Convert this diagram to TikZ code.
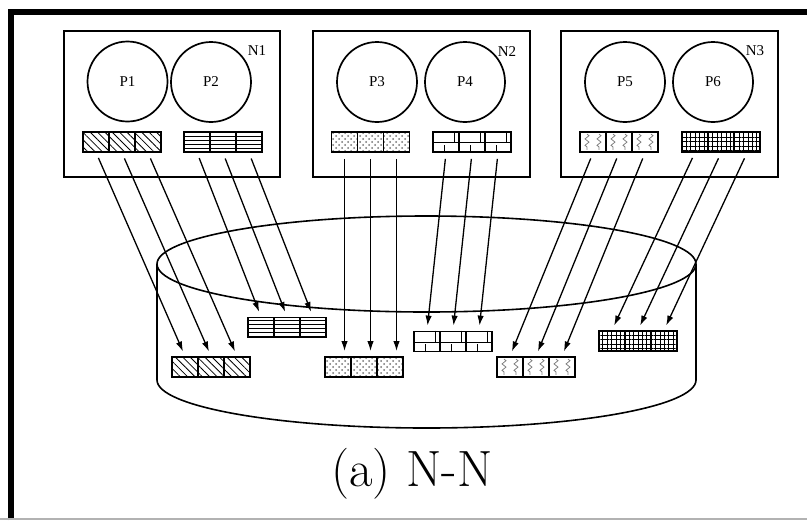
\documentclass[tikz,border=0pt]{standalone}
\usepackage{fontspec}
\newfontfamily\lblfont{Liberation Serif}
\usetikzlibrary{patterns,patterns.meta,arrows.meta,decorations.pathmorphing}
\begin{document}
\begin{tikzpicture}[x=0.5pt,y=-0.5pt,
  nodebox/.style={draw,line width=0.9pt},
  proc/.style={draw,circle,line width=0.85pt,minimum size=40pt,inner sep=0pt,font=\lblfont\fontsize{7.5}{8}\selectfont},
  nlabel/.style={font=\lblfont\fontsize{7.5}{8}\selectfont,inner sep=0pt},
  cell/.style={draw,line width=0.9pt,minimum width=13pt,minimum height=10pt,inner sep=0pt},
  pA/.style={cell,pattern={Lines[angle=-45,distance=2.6pt,line width=0.4pt]}},
  pB/.style={cell,pattern={Lines[angle=0,distance=2pt,line width=0.45pt]}},
  pC/.style={cell,pattern=crosshatch dots,pattern color=black!55},
  pD/.style={cell},
  pE/.style={cell},
  pF/.style={cell,pattern={Hatch[distance=2.2pt,line width=0.45pt]}},
  brick/.style={line width=0.5pt},
  wavy/.style={draw=gray,line width=0.4pt,decorate,decoration={zigzag,amplitude=1pt,segment length=3.2pt}},
  arr/.style={line width=0.65pt,-{Latex[length=5pt,width=3.2pt]},shorten <=3pt,shorten >=2.5pt}]
\useasboundingbox (0,0) rectangle (807,520);
% outer frame
\draw[line width=3pt] (11,520) -- (11,12) -- (807,12);
\draw[gray!60,line width=0.6pt] (0,519) -- (807,519);
% computing nodes
\draw[nodebox] (64,31) rectangle (280,177);
\draw[nodebox] (313,31) rectangle (530,177);
\draw[nodebox] (561,31) rectangle (778,177);
\node[nlabel] (n1) at (257,51) {N1};
\node[nlabel] (n2) at (507,52) {N2};
\node[nlabel] (n3) at (755,51) {N3};
% processes
\node[proc] (p1) at (127.5,81.5) {P1};
\node[proc] (p2) at (211,82) {P2};
\node[proc] (p3) at (377,82) {P3};
\node[proc] (p4) at (465,82) {P4};
\node[proc] (p5) at (625,82) {P5};
\node[proc] (p6) at (713,82) {P6};
% source buffers
\foreach \n/\x/\st in {1/96/pA,2/197/pB,3/344.5/pC,4/446/pD,5/593/pE,6/695/pF}{
  \node[\st] (s\n a) at (\x,142) {};
  \node[\st] (s\n b) at (\x+26,142) {};
  \node[\st] (s\n c) at (\x+52,142) {};
}
% cylinder (file)
\draw[line width=0.8pt] (426.5,264) ellipse [x radius=269.5, y radius=48];
\draw[line width=0.8pt] (157,264) -- (157,380)
  arc[start angle=180,end angle=0,x radius=269.5,y radius=48] -- (696,264);
% destination buffers
\foreach \n/\x/\y/\st in {1/185/367/pA,2/261/327.5/pB,3/338/367/pC,4/427/341.5/pD,5/510/367/pE,6/612/341/pF}{
  \node[\st] (d\n a) at (\x,\y) {};
  \node[\st] (d\n b) at (\x+26,\y) {};
  \node[\st] (d\n c) at (\x+52,\y) {};
}
% wavy texture for P5 buffers
\foreach \c in {s5a,s5b,s5c,d5a,d5b,d5c}{
  \draw[wavy] ([xshift=-3pt,yshift=-1.5pt]\c.north) -- ([xshift=-3pt,yshift=1.5pt]\c.south);
  \draw[wavy] ([xshift=3pt,yshift=-1.5pt]\c.north) -- ([xshift=3pt,yshift=1.5pt]\c.south);
}
% brick texture for P4 buffers
\foreach \c in {s4a,s4b,s4c,d4a,d4b,d4c}{
  \draw[brick] ([yshift=-5.8pt]\c.north west) -- ([yshift=-5.8pt]\c.north east);
  \draw[brick] ([xshift=4pt]\c.north) -- ([xshift=4pt,yshift=-5.8pt]\c.north);
  \draw[brick] ([xshift=-1pt]\c.south) -- ([xshift=-1pt,yshift=4.2pt]\c.south);
}
% arrows
\foreach \k in {1,2,4,5,6}{
  \foreach \c in {a,b,c}{
    \draw[arr] (s\k\c.south) -- (d\k\c.north);
  }
}
\foreach \c in {a,b,c}{
  \draw[arr] (s3\c.south) -- (s3\c.south |- d3\c.north);
}
% caption
\node[font=\fontsize{25.5}{30}\selectfont,inner sep=0pt] (cap) at (412,474) {(a) N-N};
\end{tikzpicture}
\end{document}
